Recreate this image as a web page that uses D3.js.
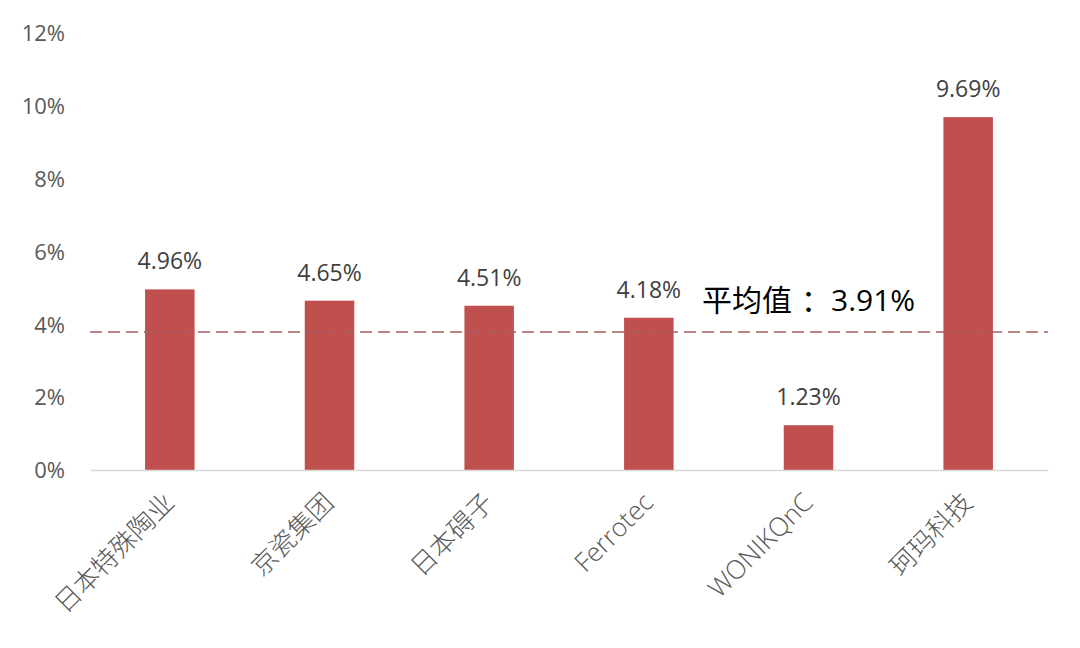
<!DOCTYPE html>
<html>
<head>
<meta charset="utf-8">
<script src="https://cdn.jsdelivr.net/npm/d3@7"></script>
<style>
  html, body { margin: 0; padding: 0; background: #fff; }
  svg { display: block; }
  text { font-family: "Open Sans", "Noto Sans CJK SC", sans-serif; }
</style>
</head>
<body>
<svg id="chart" width="1080" height="648"></svg>
<script>
const categories = ["日本特殊陶业", "京瓷集团", "日本碍子", "Ferrotec", "WONIKQnC", "珂玛科技"];
const values = [4.96, 4.65, 4.51, 4.18, 1.23, 9.69];
const valueLabels = ["4.96%", "4.65%", "4.51%", "4.18%", "1.23%", "9.69%"];
const yTicks = [0, 2, 4, 6, 8, 10, 12];
const averageValue = 3.91;
const averageLinePosition = 3.79; // where the dashed line is drawn in the reference
const averageLabelParts = ["平均值", "：", "3.91%"];

const svg = d3.select("#chart");
svg.append("rect").attr("width", 1080).attr("height", 648).attr("fill", "#fff");

const x = d3.scaleBand().domain(categories).range([90, 1048]).paddingInner(0.69).paddingOuter(0.345);
const y = d3.scaleLinear().domain([0, 12]).range([470, 33]);

// y axis labels
const yAxis = d3.axisLeft(y).tickValues(yTicks).tickFormat(d => d + "%").tickSize(0).tickPadding(0);
const gy = svg.append("g").attr("transform", "translate(65,0)").call(yAxis);
gy.select(".domain").remove();
gy.selectAll("text").attr("font-size", 22).attr("fill", "#595959")
  .attr("font-family", "'Open Sans', sans-serif").attr("dy", "0.35em");

// bars
svg.append("g").selectAll("rect").data(values).join("rect")
  .attr("x", (d, i) => x(categories[i]))
  .attr("y", d => y(d))
  .attr("width", x.bandwidth())
  .attr("height", d => y(0) - y(d))
  .attr("fill", "#c0504d");

// x axis line
const xAxis = d3.axisBottom(x).tickSize(0).tickFormat("");
const gx = svg.append("g").attr("transform", `translate(0,${y(0)})`).call(xAxis);
gx.select(".domain").attr("stroke", "#d9d9d9").attr("stroke-width", 1.5);

// average dashed line
svg.append("line")
  .attr("x1", 90).attr("x2", 1048)
  .attr("y1", y(averageLinePosition)).attr("y2", y(averageLinePosition))
  .attr("stroke", "#a85c62").attr("stroke-width", 1.5)
  .attr("stroke-dasharray", "12,6");

// value labels
svg.append("g").selectAll("text").data(values).join("text")
  .attr("x", (d, i) => x(categories[i]) + x.bandwidth() / 2)
  .attr("y", d => y(d) - 20)
  .attr("text-anchor", "middle")
  .attr("font-size", 23)
  .attr("fill", "#404040")
  .text((d, i) => valueLabels[i]);

// average label (colon centred in its full-width cell, as in the reference)
const avgText = svg.append("text")
  .attr("x", 702).attr("y", y(averageValue) - 17)
  .attr("font-size", 30)
  .attr("fill", "#000")
  .attr("font-family", "'Noto Sans CJK SC', sans-serif");
avgText.append("tspan").text(averageLabelParts[0]);
avgText.append("tspan").attr("dx", 9).text(averageLabelParts[1]);
avgText.append("tspan").attr("font-family", "'Open Sans', sans-serif").text(averageLabelParts[2]);

// category labels
svg.append("g").selectAll("text").data(categories).join("text")
  .attr("transform", d => `translate(${x(d) + x.bandwidth() / 2 + 6},${y(0) + 34}) rotate(-45)`)
  .attr("text-anchor", "end")
  .attr("font-size", 26)
  .attr("fill", "#595959")
  .attr("font-family", "'Noto Sans CJK SC', 'Open Sans', sans-serif")
  .attr("font-weight", 300)
  .text(d => d);
</script>
</body>
</html>
